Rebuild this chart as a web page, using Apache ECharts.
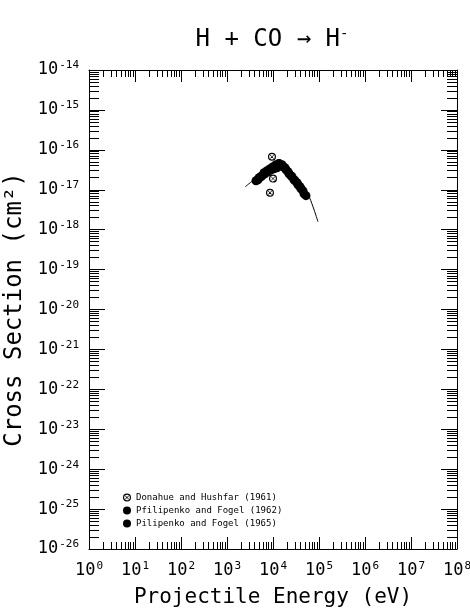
<!DOCTYPE html>
<html><head><meta charset="utf-8">
<script src="https://cdn.jsdelivr.net/npm/echarts@6/dist/echarts.min.js"></script>
<style>html,body{margin:0;padding:0;background:#fff}#c{width:470px;height:610px}</style>
</head><body><div id="c"></div>
<script>
// ---- data ----
const xExponents = [0, 1, 2, 3, 4, 5, 6, 7, 8];
const yExponents = [-26, -25, -24, -23, -22, -21, -20, -19, -18, -17, -16, -15, -14];
const seriesNames = ['Donahue and Hushfar (1961)', 'Pfilipenko and Fogel (1962)', 'Pilipenko and Fogel (1965)'];

const donahueE = [9500, 13500, 10000, 8600];
const donahueS = [6.7e-17, 4.7e-17, 1.9e-17, 8.4e-18];

const pil62E = [4270, 4960, 5770, 6700, 7780, 9050, 10500, 12200, 14200, 16500, 19200, 22300, 25900, 30100, 34900, 40600, 47200];
const pil62S = [1.68e-17, 2.0e-17, 2.24e-17, 2.51e-17, 2.82e-17, 3.16e-17, 3.35e-17, 3.55e-17, 3.98e-17, 3.76e-17, 3.16e-17, 2.51e-17, 2.11e-17, 1.68e-17, 1.33e-17, 1.06e-17, 7.9e-18];

const pil65E = [4720, 5480, 6370, 7410, 8610, 10000, 11600, 13500, 15700, 18200, 21200, 24600, 28600, 33300, 38600, 44900, 52100];
const pil65S = [1.78e-17, 2.11e-17, 2.66e-17, 2.99e-17, 3.35e-17, 3.76e-17, 4.22e-17, 4.47e-17, 4.22e-17, 3.55e-17, 2.82e-17, 2.24e-17, 1.78e-17, 1.5e-17, 1.19e-17, 9.4e-18, 7.1e-18];

const fitE = [2500, 4100, 6700, 11000, 15800, 23500, 39000, 58000, 74000, 95000];
const fitS = [1.19e-17, 1.88e-17, 2.8e-17, 3.8e-17, 4.0e-17, 2.8e-17, 1.58e-17, 7.5e-18, 3.76e-18, 1.58e-18];

// ---- helpers ----
const FONT = '"DejaVu Sans Mono", monospace';
const zip = (a, b) => a.map((v, i) => [v, b[i]]);
function decades(exps) { return exps.map(e => Math.pow(10, e)); }
function minors(exps) {
  const out = [];
  for (let i = 0; i < exps.length - 1; i++) for (let k = 2; k <= 9; k++) out.push(k * Math.pow(10, exps[i]));
  return out;
}
const rich = {
  b: { fontFamily: FONT, fontSize: 17, color: '#000', lineHeight: 20 },
  s: { fontFamily: FONT, fontSize: 11, color: '#000', verticalAlign: 'top', lineHeight: 20, padding: [0, 0, 9, 1] }
};
const fmt = v => '{b|10}{s|' + Math.round(Math.log10(v)) + '}';
const xMin = Math.pow(10, xExponents[0]), xMax = Math.pow(10, xExponents[xExponents.length - 1]);
const yMin = Math.pow(10, yExponents[0]), yMax = Math.pow(10, yExponents[yExponents.length - 1]);

function axis(dim, position, tickVals, tickLen, main) {
  return {
    type: 'log', logBase: 10, position: position,
    min: dim === 'x' ? xMin : yMin, max: dim === 'x' ? xMax : yMax,
    axisLine: { show: main, onZero: false, lineStyle: { color: '#000', width: 1 } },
    axisTick: { show: true, inside: true, length: tickLen, customValues: tickVals, lineStyle: { color: '#000', width: 1 } },
    minorTick: { show: false }, splitLine: { show: false },
    axisLabel: { show: false }
  };
}
const xDec = decades(xExponents), xMin_ = minors(xExponents);
const yDec = decades(yExponents), yMin_ = minors(yExponents);

const xAxes = [
  Object.assign(axis('x', 'bottom', xMin_, 7, true), {
    name: 'Projectile Energy (eV)', nameLocation: 'middle', nameGap: 38,
    nameTextStyle: { fontFamily: FONT, fontSize: 21, color: '#000' },
    axisLabel: { show: true, customValues: xDec, formatter: fmt, rich: rich, margin: 12 }
  }),
  axis('x', 'bottom', xDec, 12, false),
  axis('x', 'top', xMin_, 7, true),
  axis('x', 'top', xDec, 12, false)
];
const yAxes = [
  Object.assign(axis('y', 'left', yMin_, 10, true), {
    name: 'Cross Section (cm²)', nameLocation: 'middle', nameGap: 62,
    nameTextStyle: { fontFamily: FONT, fontSize: 24, color: '#000' },
    axisLabel: { show: true, customValues: yDec, formatter: fmt, rich: rich, margin: 10 }
  }),
  axis('y', 'left', yDec, 16, false),
  axis('y', 'right', yMin_, 10, true),
  axis('y', 'right', yDec, 16, false)
];

const otimesPath = 'path://M10,0 A10,10 0 1,1 9.99,0 Z M10,3 A7,7 0 1,0 10.01,3 Z M5,6 L6,5 L15,14 L14,15 Z M14,5 L15,6 L6,15 L5,14 Z';

const option = {
  animation: false,
  backgroundColor: '#fff',
  title: {
    text: 'H + CO → H{s|-}', left: 267, textAlign: 'center', top: 22,
    textStyle: { fontFamily: FONT, fontSize: 24, fontWeight: 'normal', color: '#000',
      rich: { s: { fontFamily: FONT, fontSize: 14, color: '#000', verticalAlign: 'top', padding: [0, 0, 12, 0] } } }
  },
  grid: { left: 89, right: 13, top: 70, bottom: 61, containLabel: false, outerBoundsMode: 'none' },
  legend: {
    orient: 'vertical', left: 118, top: 488, itemGap: 4, itemWidth: 8, itemHeight: 8,
    textStyle: { fontFamily: FONT, fontSize: 9, color: '#000' },
    data: seriesNames
  },
  xAxis: xAxes,
  yAxis: yAxes,
  series: [
    { type: 'line', data: zip(fitE, fitS), smooth: 0.4, showSymbol: false, symbol: 'none',
      lineStyle: { color: '#000', width: 1 }, z: 2, silent: true },
    { name: seriesNames[0], type: 'scatter', data: zip(donahueE, donahueS), symbol: otimesPath, symbolSize: 8,
      itemStyle: { color: '#000', opacity: 1 }, z: 4 },
    { name: seriesNames[1], type: 'scatter', data: zip(pil62E, pil62S), symbol: 'circle', symbolSize: 9,
      itemStyle: { color: '#000', opacity: 1 }, z: 3 },
    { name: seriesNames[2], type: 'scatter', data: zip(pil65E, pil65S), symbol: 'circle', symbolSize: 9,
      itemStyle: { color: '#000', opacity: 1 }, z: 3 }
  ]
};
const chart = echarts.init(document.getElementById('c'), null, { renderer: 'canvas' });
chart.setOption(option);
</script>
</body></html>
